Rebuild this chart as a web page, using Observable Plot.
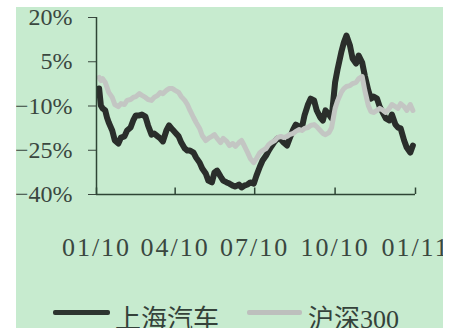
<!DOCTYPE html>
<html><head><meta charset="utf-8">
<script src="https://cdn.jsdelivr.net/npm/d3@7"></script>
<script src="https://cdn.jsdelivr.net/npm/@observablehq/plot@0.6"></script>
<style>
html,body{margin:0;padding:0;background:#fff;}
#panel{position:absolute;left:16px;top:7px;width:427px;height:321px;background:#c7ebcf;overflow:hidden;}
#chart svg g[aria-label="x-axis tick label"]{font-size:26px;letter-spacing:2px;}
#chart svg g[aria-label="y-axis tick label"]{font-size:24px;}
.sw{position:absolute;height:5px;border-radius:2px;}
.lt{position:absolute;font-family:"Liberation Serif","Noto Sans CJK SC",serif;font-size:26px;line-height:26px;color:#34423a;white-space:nowrap;}
</style></head><body>
<div id="panel"><div id="chart"></div><div id="legend"></div></div>
<script>
const seriesNames = ["上海汽车", "沪深300"];
const seriesColors = ["#2a2e2b", "#c3c6c3"];
const yTicks = [-40, -25, -10, 5, 20];
const xTicks = ["2010-01-01", "2010-04-01", "2010-07-01", "2010-10-01", "2011-01-01"];
const dates = [
"2010-01-04","2010-01-06","2010-01-08","2010-01-11","2010-01-13","2010-01-15","2010-01-19","2010-01-22","2010-01-26","2010-01-29",
"2010-02-02","2010-02-05","2010-02-09","2010-02-12","2010-02-15","2010-02-19","2010-02-22","2010-02-26","2010-03-01","2010-03-05",
"2010-03-08","2010-03-12","2010-03-15","2010-03-18","2010-03-22","2010-03-25","2010-03-29","2010-04-01","2010-04-05","2010-04-08",
"2010-04-12","2010-04-15","2010-04-18","2010-04-22","2010-04-25","2010-04-29","2010-05-02","2010-05-06","2010-05-09","2010-05-13",
"2010-05-16","2010-05-19","2010-05-23","2010-05-26","2010-05-30","2010-06-02","2010-06-06","2010-06-09","2010-06-13","2010-06-16",
"2010-06-19","2010-06-23","2010-06-26","2010-06-30","2010-07-03","2010-07-07","2010-07-10","2010-07-14","2010-07-17","2010-07-20",
"2010-07-24","2010-07-27","2010-07-31","2010-08-03","2010-08-07","2010-08-10","2010-08-14","2010-08-17","2010-08-21","2010-08-24",
"2010-08-27","2010-08-31","2010-09-03","2010-09-07","2010-09-10","2010-09-14","2010-09-17","2010-09-20","2010-09-24","2010-09-27",
"2010-10-01","2010-10-04","2010-10-08","2010-10-11","2010-10-14","2010-10-18","2010-10-21","2010-10-25","2010-10-28","2010-11-01",
"2010-11-04","2010-11-08","2010-11-11","2010-11-14","2010-11-18","2010-11-21","2010-11-25","2010-11-28","2010-12-02","2010-12-05",
"2010-12-09","2010-12-12","2010-12-15","2010-12-19","2010-12-22","2010-12-26","2010-12-29"
];
const shanghaiAuto = [
-4.1,-9.8,-10.8,-11.5,-13.9,-15.6,-18.3,-21.7,-22.7,-20.7,
-20.3,-18.3,-17.3,-14.9,-13.2,-13.2,-12.9,-13.6,-16.6,-19.7,
-19.3,-20.3,-21.0,-22.0,-18.3,-16.6,-18.0,-19.0,-20.3,-22.4,
-24.4,-25.1,-25.1,-25.8,-27.5,-29.2,-31.2,-32.9,-35.3,-35.9,
-32.5,-31.9,-33.9,-35.3,-35.9,-36.3,-37.0,-37.3,-36.6,-37.6,
-37.0,-36.6,-35.9,-36.3,-33.6,-30.5,-28.5,-26.8,-25.1,-23.7,
-22.0,-21.0,-21.4,-22.4,-23.4,-21.0,-18.0,-16.3,-17.0,-17.3,
-13.2,-9.5,-7.5,-8.1,-11.5,-13.9,-14.9,-11.5,-12.9,-14.2,
-2.0,2.7,8.1,11.5,13.9,10.5,6.1,4.4,7.1,4.7,
0.3,-4.7,-7.5,-6.8,-7.5,-10.2,-12.5,-14.2,-14.9,-12.9,
-16.3,-17.3,-17.6,-21.7,-24.1,-25.8,-23.4
];
const csi300 = [
-0.3,-1.4,-0.7,-2.0,-3.7,-5.4,-7.1,-9.5,-10.2,-9.2,
-9.5,-8.1,-7.8,-7.1,-6.8,-5.8,-6.4,-7.1,-7.8,-8.1,
-7.1,-6.4,-5.4,-5.8,-4.7,-4.1,-4.1,-4.7,-5.4,-6.8,
-8.1,-9.5,-11.5,-13.9,-15.6,-17.6,-20.0,-21.7,-21.0,-20.3,
-19.7,-21.0,-22.4,-21.0,-22.0,-23.4,-22.7,-23.7,-22.4,-21.7,
-23.4,-25.8,-27.8,-29.2,-27.8,-25.8,-25.1,-24.4,-23.1,-22.4,
-21.7,-20.7,-20.3,-20.7,-20.3,-19.7,-19.3,-18.6,-18.0,-18.3,
-17.6,-17.3,-16.6,-16.3,-17.0,-18.3,-19.3,-19.7,-19.0,-17.3,
-10.8,-8.1,-5.4,-4.1,-3.4,-3.1,-2.4,-2.0,-0.7,0.0,
-4.7,-9.8,-11.9,-12.2,-11.5,-10.8,-11.5,-12.2,-10.8,-9.5,
-10.2,-10.8,-9.2,-10.2,-11.5,-9.5,-11.5
];

const parse = d3.utcParse("%Y-%m-%d");
const rows = (vals) => dates.map((d, i) => ({date: parse(d), value: vals[i]}));
const axisColor = "#2e4535";
const tickDates = xTicks.map(parse);

const chart = Plot.plot({
  width: 427, height: 260,
  marginLeft: 80, marginRight: 28, marginTop: 10, marginBottom: 73,
  style: {background: "transparent", fontFamily: "'Liberation Serif', serif", fontSize: "25px", color: "#3a473f", overflow: "visible"},
  x: {type: "utc", domain: [tickDates[0], tickDates[4]], ticks: tickDates, tickFormat: d3.utcFormat("%m/%y"), tickSize: 0, tickPadding: 43, label: null},
  y: {domain: [-40, 20], ticks: yTicks, tickFormat: d => (d < 0 ? "\u2212" : "") + Math.abs(d) + "%", tickSize: 8, tickPadding: 16, label: null},
  marks: [
    Plot.line(rows(shanghaiAuto), {x: "date", y: "value", stroke: seriesColors[0], strokeWidth: 6, strokeLinejoin: "round", strokeLinecap: "round"}),
    Plot.line(rows(csi300), {x: "date", y: "value", stroke: seriesColors[1], strokeWidth: 5, strokeLinejoin: "round", strokeLinecap: "round"}),
    Plot.ruleY([-40], {stroke: axisColor, strokeWidth: 1.5}),
    Plot.ruleX([tickDates[0]], {stroke: axisColor, strokeWidth: 1.5}),
    Plot.ruleX(tickDates, {y1: -40, y2: -37.8, stroke: axisColor, strokeWidth: 1.5})
  ]
});
document.getElementById("chart").appendChild(chart);

const legend = document.getElementById("legend");
const legendPos = [{sw: 37, w: 57, tx: 99}, {sw: 231, w: 55, tx: 292}];
seriesNames.forEach((name, i) => {
  const sw = document.createElement("div");
  sw.className = "sw";
  sw.style.left = legendPos[i].sw + "px";
  sw.style.top = "303px";
  sw.style.width = legendPos[i].w + "px";
  sw.style.background = i === 0 ? "#2d3530" : "#bdbfbd";
  legend.appendChild(sw);
  const t = document.createElement("div");
  t.className = "lt";
  t.style.left = legendPos[i].tx + "px";
  t.style.top = "300px";
  t.textContent = name;
  legend.appendChild(t);
});
</script>
</body></html>
